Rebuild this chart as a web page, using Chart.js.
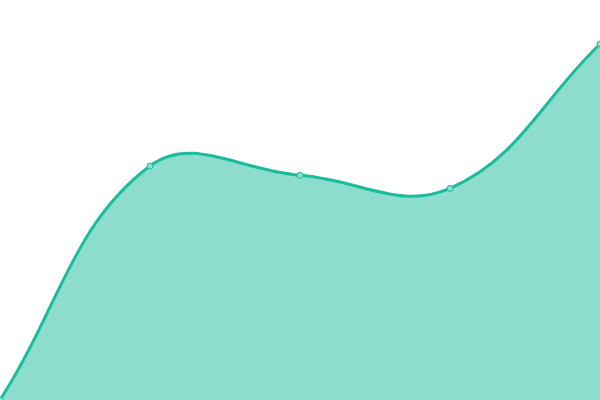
<!DOCTYPE html>
<html>
<head>
<meta charset="utf-8">
<script src="https://cdn.jsdelivr.net/npm/chart.js@4/dist/chart.umd.min.js"></script>
<style>
  html, body { margin: 0; padding: 0; background: #fff; }
  #wrap { width: 600px; height: 400px; }
</style>
</head>
<body>
<div id="wrap"><canvas id="graph"></canvas></div>
<script>
// données
const labels = ['A', 'B', 'C', 'D', 'E'];
const valeurs = [0, 58.5, 56.2, 52.9, 89];
const yMin = 0;
const yMax = 100;

const ctx = document.getElementById('graph').getContext('2d');
window.courbeChart = new Chart(ctx, {
  type: 'line',
  data: {
    labels: labels,
    datasets: [
      {
        data: valeurs,
        borderColor: '#1abc9c',
        backgroundColor: 'rgba(26, 188, 156, 0.5)',
        borderWidth: 3,
        fill: true,
        tension: 0.4,
        pointRadius: 3,
        pointBorderWidth: 1,
        pointBackgroundColor: '#8ddfce',
        pointBorderColor: '#1abc9c'
      }
    ]
  },
  options: {
    responsive: true,
    maintainAspectRatio: false,
    animation: false,
    layout: { padding: 0, autoPadding: false },
    plugins: {
      legend: { display: false },
      tooltip: { enabled: false }
    },
    scales: {
      x: { display: false },
      y: { display: false, min: yMin, max: yMax }
    }
  }
});
</script>
</body>
</html>
